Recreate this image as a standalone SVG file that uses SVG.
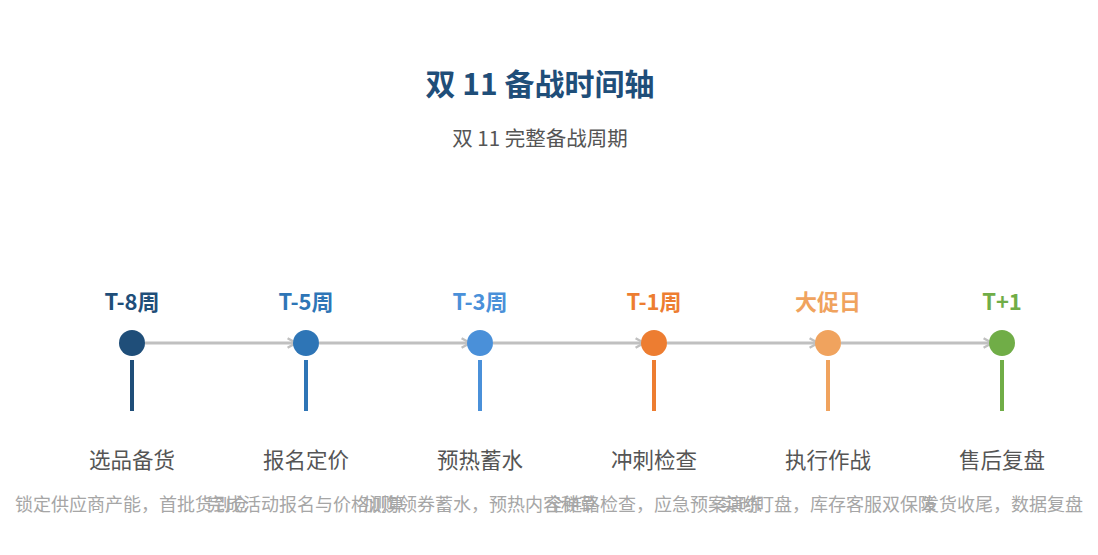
<svg xmlns="http://www.w3.org/2000/svg" width="1098" height="555" viewBox="0 0 1098 555">
<defs>
<style>
text{font-family:"Noto Sans CJK SC","Noto Sans",sans-serif;text-anchor:middle}
.title{font-size:30px;font-weight:bold;fill:#1f4e79}
.sub{font-size:20.5px;fill:#555555}
.tag{font-size:22px;font-weight:bold}
.name{font-size:21.5px;fill:#555555}
.desc{font-size:18px;fill:#a6a6a6}
.conn{stroke:#c0c0c0;stroke-width:3;fill:none;marker-end:url(#arr)}
.stem{stroke-width:4}
</style>
<marker id="arr" viewBox="0 0 10 10" refX="8" refY="5" markerWidth="4" markerHeight="4" orient="auto" markerUnits="strokeWidth">
<path d="M1,1 L8,5 L1,9" fill="none" stroke="#c0c0c0" stroke-width="2"/>
</marker>
</defs>
<rect width="1098" height="555" fill="#ffffff"/>
<text class="title" x="540" y="95">双 11 备战时间轴</text>
<text class="sub" x="540" y="146">双 11 完整备战周期</text>
<g id="connectors">
<line class="conn" x1="145" y1="343" x2="296" y2="343"/>
<line class="conn" x1="319" y1="343" x2="470" y2="343"/>
<line class="conn" x1="493" y1="343" x2="644" y2="343"/>
<line class="conn" x1="667" y1="343" x2="818" y2="343"/>
<line class="conn" x1="841" y1="343" x2="992" y2="343"/>
</g>
<g id="n1">
<text class="tag" x="132" y="310" fill="#1f4e79">T-8周</text>
<circle cx="132" cy="343" r="13" fill="#1f4e79"/>
<line class="stem" x1="132" y1="360" x2="132" y2="411" stroke="#1f4e79"/>
<text class="name" x="132" y="468">选品备货</text>
<text class="desc" x="132" y="511">锁定供应商产能，首批货到仓</text>
</g>
<g id="n2">
<text class="tag" x="306" y="310" fill="#2e75b6">T-5周</text>
<circle cx="306" cy="343" r="13" fill="#2e75b6"/>
<line class="stem" x1="306" y1="360" x2="306" y2="411" stroke="#2e75b6"/>
<text class="name" x="306" y="468">报名定价</text>
<text class="desc" x="306" y="511">完成活动报名与价格测算</text>
</g>
<g id="n3">
<text class="tag" x="480" y="310" fill="#4a90d9">T-3周</text>
<circle cx="480" cy="343" r="13" fill="#4a90d9"/>
<line class="stem" x1="480" y1="360" x2="480" y2="411" stroke="#4a90d9"/>
<text class="name" x="480" y="468">预热蓄水</text>
<text class="desc" x="480" y="511">加购领券蓄水，预热内容种草</text>
</g>
<g id="n4">
<text class="tag" x="654" y="310" fill="#ed7d31">T-1周</text>
<circle cx="654" cy="343" r="13" fill="#ed7d31"/>
<line class="stem" x1="654" y1="360" x2="654" y2="411" stroke="#ed7d31"/>
<text class="name" x="654" y="468">冲刺检查</text>
<text class="desc" x="654" y="511">全链路检查，应急预案演练</text>
</g>
<g id="n5">
<text class="tag" x="828" y="310" fill="#f0a35e">大促日</text>
<circle cx="828" cy="343" r="13" fill="#f0a35e"/>
<line class="stem" x1="828" y1="360" x2="828" y2="411" stroke="#f0a35e"/>
<text class="name" x="828" y="468">执行作战</text>
<text class="desc" x="828" y="511">实时盯盘，库存客服双保障</text>
</g>
<g id="n6">
<text class="tag" x="1002" y="310" fill="#70ad47">T+1</text>
<circle cx="1002" cy="343" r="13" fill="#70ad47"/>
<line class="stem" x1="1002" y1="360" x2="1002" y2="411" stroke="#70ad47"/>
<text class="name" x="1002" y="468">售后复盘</text>
<text class="desc" x="1002" y="511">发货收尾，数据复盘</text>
</g>
</svg>
